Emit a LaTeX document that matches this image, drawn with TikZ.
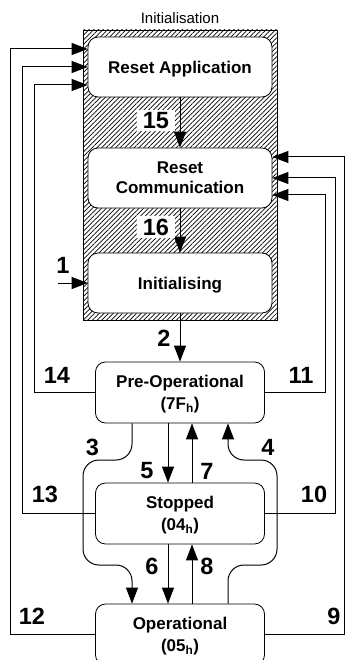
\documentclass[tikz,border=0pt]{standalone}
\usepackage{fontspec}
\setmainfont{Liberation Sans}
\usetikzlibrary{arrows.meta,patterns.meta}
\begin{document}
\begin{tikzpicture}[x=1pt,y=-1pt,
  state/.style={draw, line width=0.8pt, fill=white, rounded corners=10pt,
    minimum width=184pt, minimum height=60pt, align=center, inner sep=0pt,
    text depth=0pt, font=\bfseries\fontsize{17}{20}\selectfont},
  opstate/.style={state, minimum width=169pt, minimum height=61pt,
    font=\bfseries\fontsize{17}{22}\selectfont},
  num/.style={font=\bfseries\fontsize{23.5}{24}\selectfont, inner sep=0pt},
  numbg/.style={num, fill=white, inner xsep=6pt, inner ysep=2.5pt},
  conn/.style={line width=1pt, -{Triangle[length=16pt,width=12pt]}},
  line/.style={line width=1pt},
  hatch/.style={draw, line width=0.7pt,
    pattern={Lines[angle=45,distance=3.3pt,line width=0.7pt]}},
]
\useasboundingbox (0,0) rectangle (345,660);
% title and hatched frame
\node[font=\fontsize{15}{15}\selectfont] (title) at (180,18) {Initialisation};
\node[hatch, minimum width=194pt, minimum height=290pt, inner sep=0pt] (init) at (180,175) {};
% states
\node[state] (RA) at (180,67) {Reset Application};
\node[state] (RC) at (180,178) {Reset\\Communication};
\node[state] (IN) at (180,283) {Initialising};
\node[opstate] (PO) at (180,392.5) {Pre-Operational\\(7F\textsubscript{h})};
\node[opstate] (ST) at (180,513.5) {Stopped\\(04\textsubscript{h})};
\node[opstate] (OP) at (180,634.5) {Operational\\(05\textsubscript{h})};
% vertical transitions
\draw[conn] (RA.south) -- (RC.north);
\draw[conn] (RC.south) -- (IN.north);
\coordinate (c1) at (58,283);
\draw[conn] (c1) -- (IN.west);
\draw[conn] (IN.south) -- (PO.north);
\draw[conn] ([xshift=-12pt]PO.south) -- ([xshift=-12pt]ST.north);
\draw[conn] ([xshift=12pt]ST.north) -- ([xshift=12pt]PO.south);
\draw[conn] ([xshift=-12pt]ST.south) -- ([xshift=-12pt]OP.north);
\draw[conn] ([xshift=12pt]OP.north) -- ([xshift=12pt]ST.south);
% curved bypasses
\draw[conn, rounded corners=16pt] ([xshift=-48pt]PO.south) -- (132,460) -- (83,460)
  -- (83,565) -- (132,565) -- ([xshift=-48pt]OP.north);
\draw[conn, rounded corners=16pt] ([xshift=48pt]OP.north) -- (228,565) -- (277,565)
  -- (277,460) -- (228,460) -- ([xshift=48pt]PO.south);
% returns to reset application
\draw[conn] (PO.west) -- ++(-61,0) |- ([yshift=-18pt]RA.west);
\draw[conn] (ST.west) -- ++(-72.5,0) |- (RA.west);
\draw[conn] (OP.west) -- ++(-84.5,0) |- ([yshift=18pt]RA.west);
% returns to reset communication
\draw[conn] (PO.east) -- ++(60.5,0) |- ([yshift=-17pt]RC.east);
\draw[conn] (ST.east) -- ++(70.5,0) |- (RC.east);
\draw[conn] (OP.east) -- ++(80,0) |- ([yshift=21pt]RC.east);
% labels
\node[numbg] (l15) at (156,120.5) {15};
\node[numbg] (l16) at (156,227) {16};
\node[num] (l1) at (63,265) {1};
\node[num] (l2) at (164,338) {2};
\node[num] (l14) at (57,375) {14};
\node[num] (l11) at (301,375) {11};
\node[num] (l3) at (92.5,447) {3};
\node[num] (l4) at (268,447) {4};
\node[num] (l5) at (147,471) {5};
\node[num] (l7) at (207,471) {7};
\node[num] (l13) at (45,494) {13};
\node[num] (l10) at (314,494) {10};
\node[num] (l6) at (152,566) {6};
\node[num] (l8) at (207,566) {8};
\node[num] (l12) at (32,616) {12};
\node[num] (l9) at (334,616) {9};
\end{tikzpicture}
\end{document}
